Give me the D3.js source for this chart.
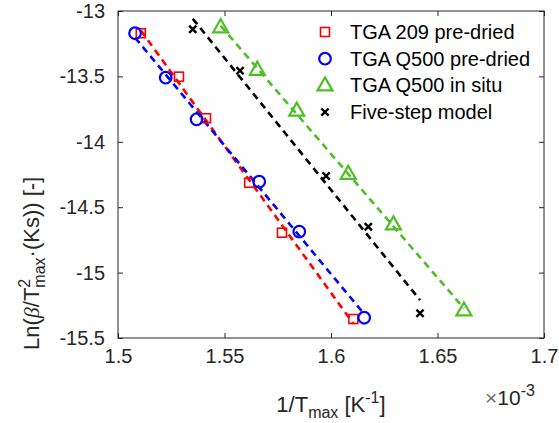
<!DOCTYPE html>
<html>
<head>
<meta charset="utf-8">
<script src="https://cdn.jsdelivr.net/npm/d3@7"></script>
<style>
  html, body { margin: 0; padding: 0; background: #fff; }
  svg { display: block; font-family: "Liberation Sans", Arial, sans-serif; }
</style>
</head>
<body>
<svg id="chart" width="559" height="423"></svg>
<script>
// ---- Data (x in units of 1e-3 K^-1) ----
const seriesNames = ["TGA 209 pre-dried", "TGA Q500 pre-dried", "TGA Q500 in situ", "Five-step model"];
const tga209X = [1.5107, 1.5286, 1.5413, 1.5616, 1.5770, 1.6105];
const tga209Y = [-13.170, -13.502, -13.820, -14.313, -14.695, -15.355];
const q500X   = [1.5080, 1.5224, 1.5369, 1.5663, 1.5851, 1.6156];
const q500Y   = [-13.170, -13.510, -13.828, -14.305, -14.687, -15.345];
const insituX = [1.5482, 1.5654, 1.5839, 1.6081, 1.6293, 1.6624];
const insituY = [-13.125, -13.450, -13.762, -14.245, -14.632, -15.290];
const modelX  = [1.5351, 1.5573, 1.5977, 1.6175, 1.6418];
const modelY  = [-13.140, -13.456, -14.261, -14.649, -15.311];
const xTicks = [1.5, 1.55, 1.6, 1.65, 1.7];
const yTicks = [-13, -13.5, -14, -14.5, -15, -15.5];

const series = [
  {name: seriesNames[0], xs: tga209X, ys: tga209Y, color: "#ff0000", marker: "square"},
  {name: seriesNames[1], xs: q500X,   ys: q500Y,   color: "#0000ff", marker: "circle"},
  {name: seriesNames[2], xs: insituX, ys: insituY, color: "#4dbf26", marker: "triangle"},
  {name: seriesNames[3], xs: modelX,  ys: modelY,  color: "#000000", marker: "cross"}
];

const svg = d3.select("#chart");
const L = 118, R = 544, T = 11, B = 338;
const axisColor = "#262626";

const x = d3.scaleLinear().domain([1.5, 1.7]).range([L, R]);
const y = d3.scaleLinear().domain([-15.5, -13]).range([B, T]);

// Axes box
svg.append("rect").attr("x", L).attr("y", T).attr("width", R - L).attr("height", B - T)
  .attr("fill", "none").attr("stroke", axisColor).attr("stroke-width", 1);

// Axes with inward ticks
const fmt = d => String(d);
const gx = svg.append("g").attr("transform", `translate(0,${B})`)
  .call(d3.axisBottom(x).tickValues(xTicks).tickSize(-5).tickPadding(11).tickFormat(fmt));
const gxTop = svg.append("g").attr("transform", `translate(0,${T})`)
  .call(d3.axisTop(x).tickValues(xTicks).tickSize(-5).tickFormat(""));
const gy = svg.append("g").attr("transform", `translate(${L},0)`)
  .call(d3.axisLeft(y).tickValues(yTicks).tickSize(-5).tickPadding(13).tickFormat(fmt));
const gyR = svg.append("g").attr("transform", `translate(${R},0)`)
  .call(d3.axisRight(y).tickValues(yTicks).tickSize(-5).tickFormat(""));
[gx, gxTop, gy, gyR].forEach(g => {
  g.select(".domain").remove();
  g.selectAll(".tick line").attr("stroke", axisColor);
  g.selectAll(".tick text").attr("fill", axisColor).attr("font-size", 20)
   .attr("font-family", "Liberation Sans, Arial, sans-serif");
});

// Regression lines (least squares of each series)
function fit(xs, ys) {
  const n = xs.length, mx = d3.mean(xs), my = d3.mean(ys);
  let sxy = 0, sxx = 0;
  for (let i = 0; i < n; i++) { sxy += (xs[i]-mx)*(ys[i]-my); sxx += (xs[i]-mx)**2; }
  const b = sxy / sxx, a = my - b * mx;
  return v => a + b * v;
}
const line = d3.line().x(d => x(d[0])).y(d => y(d[1]));
series.forEach(s => {
  const f = fit(s.xs, s.ys);
  const x0 = d3.min(s.xs), x1 = d3.max(s.xs);
  svg.append("path").datum([[x0, f(x0)], [x1, f(x1)]])
    .attr("d", line).attr("fill", "none").attr("stroke", s.color)
    .attr("stroke-width", 2.6).attr("stroke-dasharray", "7,5");
});

// Markers
function drawMarker(g, type, cx, cy, color) {
  if (type === "square") {
    g.append("rect").attr("x", cx - 4.5).attr("y", cy - 4.5).attr("width", 9).attr("height", 9)
      .attr("fill", "none").attr("stroke", color).attr("stroke-width", 1.6);
  } else if (type === "circle") {
    g.append("circle").attr("cx", cx).attr("cy", cy).attr("r", 5.8)
      .attr("fill", "none").attr("stroke", color).attr("stroke-width", 2.2);
  } else if (type === "triangle") {
    const h = 13, w = 15;
    g.append("path").attr("d", `M${cx},${cy - h*0.62}L${cx + w/2},${cy + h*0.38}L${cx - w/2},${cy + h*0.38}Z`)
      .attr("fill", "none").attr("stroke", color).attr("stroke-width", 2.2).attr("stroke-linejoin", "miter");
  } else if (type === "cross") {
    const r = 3.6;
    g.append("path").attr("d", `M${cx-r},${cy-r}L${cx+r},${cy+r}M${cx-r},${cy+r}L${cx+r},${cy-r}`)
      .attr("stroke", color).attr("stroke-width", 2.4).attr("fill", "none");
  }
}
series.forEach(s => {
  const g = svg.append("g");
  s.xs.forEach((xv, i) => drawMarker(g, s.marker, x(xv), y(s.ys[i]), s.color));
});

// Legend
const leg = svg.append("g");
const legX0 = 325, legTextX = 350, legY0 = 32, legDy = 26.7;
series.forEach((s, i) => {
  const cy = legY0 + i * legDy;
  drawMarker(leg, s.marker, legX0, cy, s.color);
  leg.append("text").attr("x", legTextX).attr("y", cy + 7).attr("font-size", 20)
    .attr("fill", "#000").text(s.name);
});

// X label
const xl = svg.append("text").attr("x", 331).attr("y", 412).attr("text-anchor", "middle")
  .attr("font-size", 22).attr("fill", axisColor);
xl.append("tspan").text("1/T");
xl.append("tspan").attr("font-size", 16).attr("dy", 6).text("max");
xl.append("tspan").attr("dy", -6).text(" [K");
xl.append("tspan").attr("font-size", 16).attr("dy", -9).text("-1");
xl.append("tspan").attr("dy", 9).text("]");

// Exponent label
const ex = svg.append("text").attr("x", 485).attr("y", 405).attr("font-size", 21).attr("fill", axisColor);
ex.append("tspan").attr("fill", "#707070").text("×");
ex.append("tspan").text("10");
ex.append("tspan").attr("font-size", 16).attr("dy", -9).text("-3");

// Y label
const yl = svg.append("text").attr("transform", "translate(39,350) rotate(-90)")
  .attr("text-anchor", "start").attr("font-size", 22).attr("fill", axisColor);
yl.append("tspan").text("Ln(");
yl.append("tspan").attr("font-family", "Liberation Serif, Times New Roman, serif").attr("font-style", "italic").text("β");
yl.append("tspan").text("/T");
yl.append("tspan").attr("font-size", 16).attr("dy", -9).text("2");
yl.append("tspan").attr("font-size", 16).attr("dx", -8.9).attr("dy", 15).text("max");
yl.append("tspan").attr("dy", -6).text("·(Ks)) [-]");
</script>
</body>
</html>
